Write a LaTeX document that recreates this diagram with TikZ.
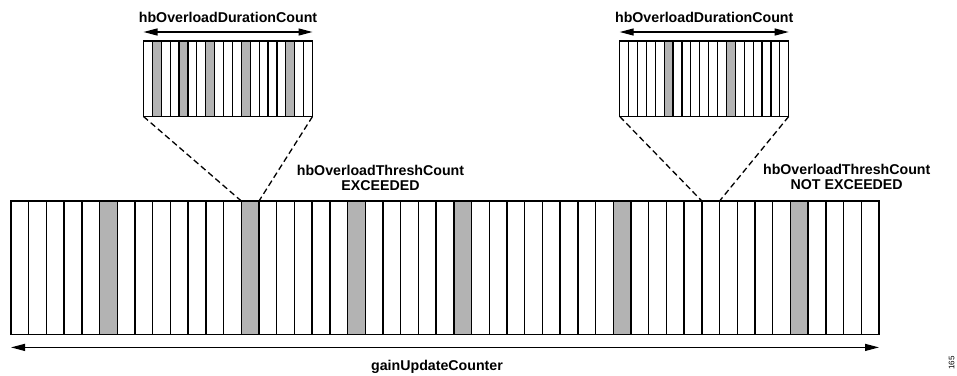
\documentclass[tikz,border=0pt]{standalone}
\usepackage{fontspec}
\setmainfont{Liberation Sans}
\usepackage{xcolor}
\usetikzlibrary{arrows.meta,positioning}
\definecolor{CellGray}{HTML}{B3B3B3}
\begin{document}
\begin{tikzpicture}[
  x=1pt,y=-1pt,
  cell/.style={draw=black,line width=1.3pt,fill=white,inner sep=0pt,outer sep=0pt,minimum height=133.4pt,minimum width=17.714pt},
  small/.style={draw=black,line width=1.2pt,fill=white,inner sep=0pt,outer sep=0pt,minimum height=75.5pt,minimum width=8.895pt},
  hit/.style={fill=CellGray},
  dimarrow/.style={{Triangle[length=14pt,width=7pt]}-{Triangle[length=14pt,width=7pt]},line width=1.3pt},
  zoomline/.style={dash pattern=on 6pt off 3.5pt,line width=1.3pt},
  lbl/.style={font=\fontsize{14.2}{15}\selectfont\bfseries,align=center,inner sep=0pt}
]
\useasboundingbox (0,0) rectangle (957,375);
\foreach \i in {0,...,48}
  \node[cell] (c\i) at ({19.857+17.714*\i},267.7) {};
\foreach \i in {5,13,19,25,34,44}
  \node[cell,hit] at (c\i) {};
\foreach \i in {0,...,18}{
  \node[small] (a\i) at ({147.95+8.895*\i},78.75) {};
  \node[small] (b\i) at ({624.15+8.895*\i},78.75) {};
}
\foreach \i in {1,4,7,11,16}
  \node[small,hit] at (a\i) {};
\foreach \i in {5,12}
  \node[small,hit] at (b\i) {};
\draw[zoomline] (a0.south west) -- (c13.north west);
\draw[zoomline] (a18.south east) -- (c13.north east);
\draw[zoomline] (b0.south west) -- (c39.north west);
\draw[zoomline] (b18.south east) -- (c39.north east);
\draw[dimarrow] ([yshift=9pt]a0.north west) -- ([yshift=9pt]a18.north east);
\draw[dimarrow] ([yshift=9pt]b0.north west) -- ([yshift=9pt]b18.north east);
\draw[dimarrow] ([yshift=-13pt]c0.south west) -- ([yshift=-13pt]c48.south east);
\node[lbl] (durA) at ([yshift=24pt]a9.north) {hbOverloadDurationCount};
\node[lbl] (durB) at ([yshift=24pt]b9.north) {hbOverloadDurationCount};
\node[lbl] (threshA) at (380.5,178) {hbOverloadThreshCount\\EXCEEDED};
\node[lbl] (threshB) at (846.7,176.5) {hbOverloadThreshCount\\NOT EXCEEDED};
\node[lbl] (gain) at (437,367) {gainUpdateCounter};
\node[font=\fontsize{8}{9}\selectfont,rotate=90,inner sep=0pt] (fig) at (951.5,363) {165};
\end{tikzpicture}
\end{document}
